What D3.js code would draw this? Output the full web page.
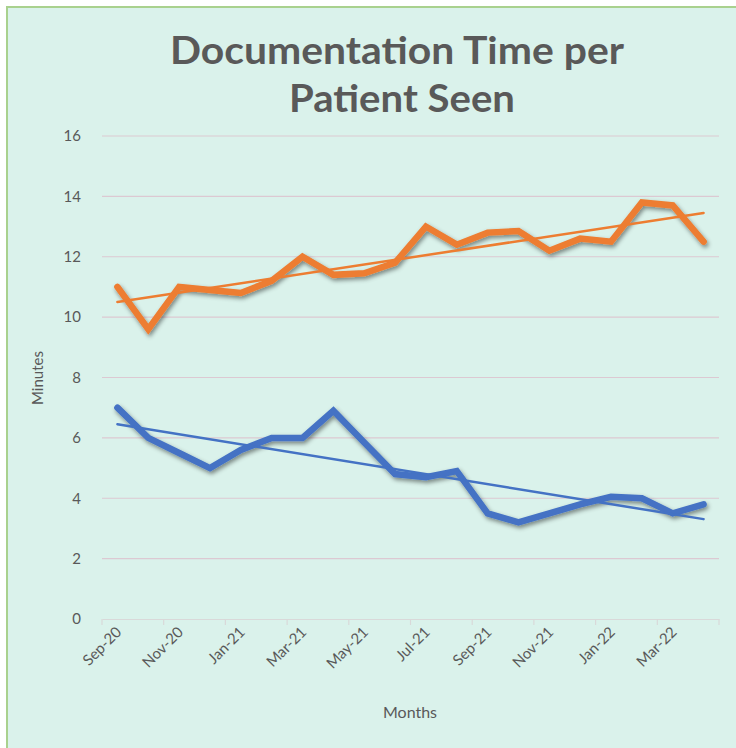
<!DOCTYPE html>
<html>
<head>
<meta charset="utf-8">
<script src="https://cdn.jsdelivr.net/npm/d3@7"></script>
<style>
  html, body { margin: 0; padding: 0; background: #ffffff; }
  svg { display: block; }
  text { font-family: Lato, "Open Sans", "Noto Sans", sans-serif; }
</style>
</head>
<body>
<svg id="chart" width="736" height="748"></svg>
<script>
// ---- data ----
const months = ["Sep-20","Oct-20","Nov-20","Dec-20","Jan-21","Feb-21","Mar-21","Apr-21","May-21","Jun-21",
                "Jul-21","Aug-21","Sep-21","Oct-21","Nov-21","Dec-21","Jan-22","Feb-22","Mar-22","Apr-22"];
const seriesOrange = [11.0, 9.6, 11.0, 10.9, 10.8, 11.2, 12.0, 11.4, 11.45, 11.8,
                      13.0, 12.4, 12.8, 12.85, 12.2, 12.6, 12.5, 13.8, 13.7, 12.5];
const seriesBlue   = [7.0, 6.0, 5.5, 5.0, 5.6, 6.0, 6.0, 6.9, 5.85, 4.8,
                      4.7, 4.9, 3.5, 3.2, 3.5, 3.8, 4.05, 4.0, 3.5, 3.8];
const yTicks = [0, 2, 4, 6, 8, 10, 12, 14, 16];
const titleLines = ["Documentation Time per", "Patient Seen"];
const xTitle = "Months";
const yTitle = "Minutes";

// ---- layout ----
const svg = d3.select("#chart");
const W = 736, H = 748;
const plot = { left: 102, right: 719, top: 136, bottom: 619 };

svg.append("rect").attr("x", 7).attr("y", 7).attr("width", W).attr("height", H)
  .attr("fill", "#daf2eb").attr("stroke", "#a9d18e").attr("stroke-width", 2);

const defs = svg.append("defs");
const f = defs.append("filter").attr("id", "shadow")
  .attr("x", "-10%").attr("y", "-20%").attr("width", "130%").attr("height", "160%");
f.append("feDropShadow").attr("dx", 1.5).attr("dy", 2.5).attr("stdDeviation", 2)
  .attr("flood-color", "#000").attr("flood-opacity", 0.45);

const x = d3.scaleBand().domain(months).range([plot.left, plot.right]).padding(0);
const y = d3.scaleLinear().domain([0, 16]).range([plot.bottom, plot.top]);
const cx = d => x(d) + x.bandwidth() / 2;

// gridlines
svg.append("g").selectAll("line").data(yTicks.filter(t => t > 0)).join("line")
  .attr("x1", plot.left).attr("x2", plot.right)
  .attr("y1", d => y(d)).attr("y2", d => y(d))
  .attr("stroke", "#dcc9d2").attr("stroke-width", 1.2);

// y axis labels
const yAxis = svg.append("g").attr("transform", `translate(${plot.left},0)`)
  .call(d3.axisLeft(y).tickValues(yTicks).tickSize(0).tickPadding(21).tickFormat(d3.format("d")));
yAxis.select(".domain").remove();
yAxis.selectAll("text").attr("fill", "#595959").style("font-size", "15px")
  .style("font-family", "Lato, 'Open Sans', sans-serif");

// x axis
const xAxis = svg.append("g").attr("transform", `translate(0,${plot.bottom})`)
  .call(d3.axisBottom(x).tickValues(months.filter((m, i) => i % 2 === 0)).tickSize(0).tickPadding(0));
xAxis.select(".domain").attr("stroke", "#d9d9d9").attr("stroke-width", 1.2);
xAxis.selectAll(".tick text")
  .attr("fill", "#595959").style("font-size", "15px")
  .style("font-family", "Lato, 'Open Sans', sans-serif")
  .attr("text-anchor", "end")
  .attr("dy", "0")
  .attr("transform", "translate(5,14) rotate(-45)");
// tick marks at boundaries every 2 months
const tickBounds = d3.range(0, months.length + 1, 2).map(i => plot.left + i * x.bandwidth());
svg.append("g").selectAll("line").data(tickBounds).join("line")
  .attr("x1", d => d).attr("x2", d => d)
  .attr("y1", plot.bottom).attr("y2", plot.bottom + 6)
  .attr("stroke", "#d9d9d9").attr("stroke-width", 1.2);

// trend lines (least squares)
function trend(vals) {
  const n = vals.length;
  const xs = d3.range(n);
  const mx = d3.mean(xs), my = d3.mean(vals);
  const b = d3.sum(xs, i => (i - mx) * (vals[i] - my)) / d3.sum(xs, i => (i - mx) ** 2);
  const a = my - b * mx;
  return [a, a + b * (n - 1)];
}

const line = d3.line().x((d, i) => cx(months[i])).y(d => y(d));

function drawSeries(vals, color) {
  svg.append("path").datum(vals).attr("d", line)
    .attr("fill", "none").attr("stroke", color).attr("stroke-width", 6.5)
    .attr("stroke-linejoin", "miter").attr("stroke-linecap", "round")
    .attr("filter", "url(#shadow)");
}
function drawTrend(vals, color) {
  const [v0, v1] = trend(vals);
  svg.append("line")
    .attr("x1", cx(months[0])).attr("x2", cx(months[months.length - 1]))
    .attr("y1", y(v0)).attr("y2", y(v1))
    .attr("stroke", color).attr("stroke-width", 2.5).attr("stroke-linecap", "round");
}

drawSeries(seriesOrange, "#ed7d31");
drawSeries(seriesBlue, "#4472c4");
drawTrend(seriesOrange, "#ed7d31");
drawTrend(seriesBlue, "#4472c4");

// titles
const title = svg.append("text").attr("text-anchor", "middle")
  .attr("fill", "#595959").style("font-size", "38px").style("font-weight", "bold");
title.append("tspan").attr("x", 397).attr("y", 64).attr("textLength", 454)
  .attr("lengthAdjust", "spacingAndGlyphs").text(titleLines[0]);
title.append("tspan").attr("x", 402).attr("y", 112).attr("textLength", 226)
  .attr("lengthAdjust", "spacingAndGlyphs").text(titleLines[1]);

svg.append("text").attr("x", 410).attr("y", 718).attr("text-anchor", "middle")
  .attr("fill", "#595959").style("font-size", "16px").text(xTitle);

svg.append("text").attr("transform", "translate(43,378) rotate(-90)").attr("text-anchor", "middle")
  .attr("fill", "#595959").style("font-size", "15px").text(yTitle);
</script>
</body>
</html>
